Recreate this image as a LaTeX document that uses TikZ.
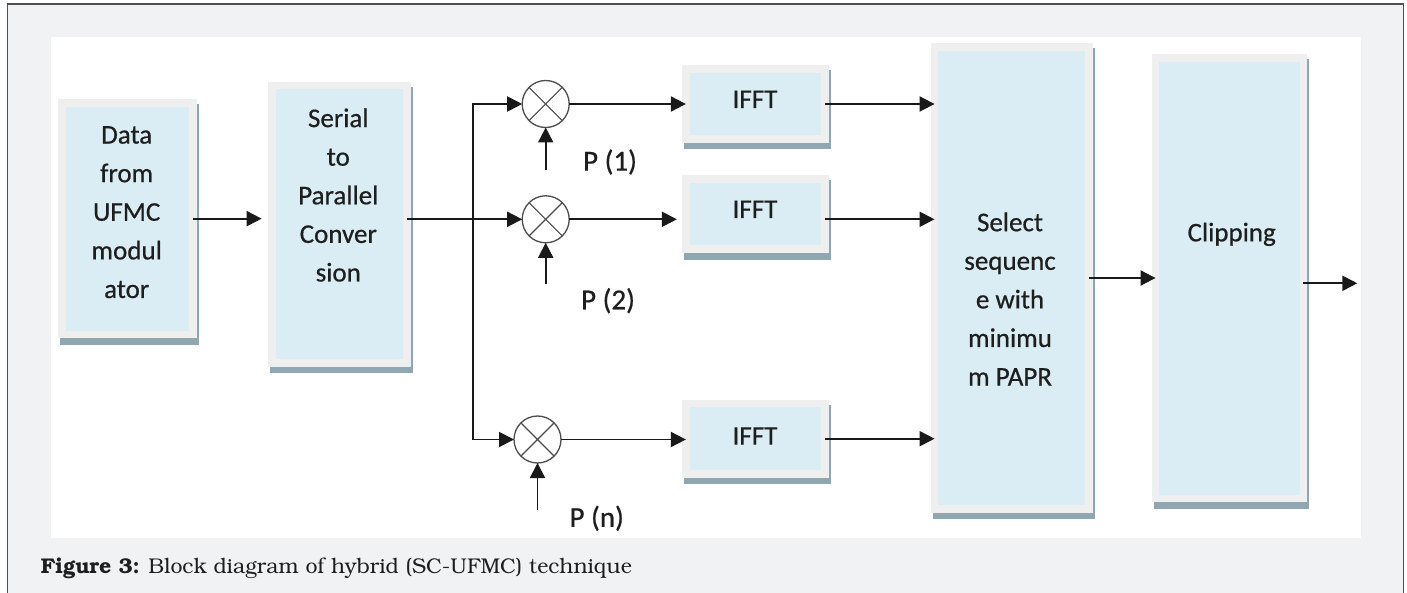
\documentclass[tikz,border=0pt]{standalone}
\usepackage[T1]{fontenc}
\usepackage{fontspec}
\setmainfont{Carlito}
\newfontfamily\boxfont{Carlito}[FakeBold=0.6]
\usetikzlibrary{arrows.meta,calc}
\definecolor{pagegray}{HTML}{F1F2F4}
\definecolor{boxgray}{HTML}{EFEFEF}
\definecolor{boxblue}{HTML}{DAEDF4}
\definecolor{shadowc}{HTML}{8FA7B1}
\definecolor{framec}{HTML}{505050}
\definecolor{ink}{HTML}{1E1E1E}
\newcommand\capfont{\fontencoding{T1}\fontfamily{pbk}\fontsize{21.3}{25}\selectfont}
\pgfdeclarelayer{base}
\pgfdeclarelayer{shade}
\pgfsetlayers{base,shade,main}
\begin{document}
\begin{tikzpicture}[x=1pt,y=-1pt,
  blk/.style={draw=boxgray, line width=7.7pt, fill=boxblue, outer sep=0pt, inner sep=0pt},
  btxt/.style={align=center, font=\boxfont\fontsize{27}{38.6}\selectfont, text=ink, inner sep=0pt},
  ptxt/.style={font=\boxfont\fontsize{29}{34}\selectfont, text=ink, inner sep=0pt},
  mixer/.style={circle, draw=black!70, line width=1.3pt, minimum size=47pt, inner sep=0pt, outer sep=0pt,
    path picture={\draw[black!70, line width=1.1pt]
      (path picture bounding box.north west) -- (path picture bounding box.south east)
      (path picture bounding box.north east) -- (path picture bounding box.south west);}},
  arr/.style={draw=black!90, line width=1.9pt, -{Triangle[length=15pt,width=15pt]}},
  arrtwo/.style={draw=black!90, line width=1.9pt, {Triangle[length=15pt,width=15pt]}-{Triangle[length=15pt,width=15pt]}}
]
\useasboundingbox (0,0) rectangle (1407,593);
\begin{pgfonlayer}{base}
  \fill[pagegray] (7.3,4) rectangle (1403.3,593);
  \draw[framec, line width=1.4pt] (7.3,594) -- (7.3,4) -- (1403.3,4) -- (1403.3,594);
  \fill[white] (51,36.7) rectangle (1361,538.3);
\end{pgfonlayer}

% blocks
\node[blk, minimum width=130.7pt, minimum height=231.6pt] (data) at (127.5,218.65) {};
\node[blk, minimum width=134.7pt, minimum height=277.3pt] (serial) at (339.5,224.2) {};
\node[blk, minimum width=139.3pt, minimum height=70.3pt] (i1) at (755.5,104) {};
\node[blk, minimum width=139.3pt, minimum height=70.3pt] (i2) at (755.5,214.2) {};
\node[blk, minimum width=139.3pt, minimum height=70.3pt] (i3) at (755.5,438.7) {};
\node[blk, minimum width=154.3pt, minimum height=461.7pt] (sel) at (1011.7,278) {};
\node[blk, minimum width=147.9pt, minimum height=440.6pt] (clip) at (1229.5,278.15) {};

\begin{pgfonlayer}{shade}
  \foreach \n in {data,serial,i1,i2,i3,sel,clip}
    \fill[shadowc] ($(\n.south west)+(-1.85,10.35)$) rectangle ($(\n.north east)+(5.85,1.15)$);
\end{pgfonlayer}

% block texts
\node[btxt] (datat) at (126.7,212.2) {Data\\from\\UFMC\\modul\\ator};
\node[btxt] (serialt) at (338.3,195) {Serial\\to\\Parallel\\Conver\\sion};
\node[btxt] (i1t) at (755,99.3) {IFFT};
\node[btxt] (i2t) at (755,209.3) {IFFT};
\node[btxt] (i3t) at (755,436) {IFFT};
\node[btxt] (selt) at (1010,299) {Select\\sequenc\\e with\\minimu\\m PAPR};
\node[btxt] (clipt) at (1231.7,234.3) {Clipping};

% mixers
\node[mixer] (m1) at (545.7,104) {};
\node[mixer] (m2) at (545.7,219.3) {};
\node[mixer] (m3) at (537.5,439.5) {};

% P labels
\node[ptxt] (p1) at (610,162) {P (1)};
\node[ptxt] (p2) at (608,300.7) {P (2)};
\node[ptxt] (pn) at (596.7,518.3) {P (n)};

\coordinate (p1s) at (545.7,170);
\coordinate (p2s) at (545.7,284);
\coordinate (pns) at (537.5,510);
\coordinate (jt) at (473.3,104);
\coordinate (jb) at (473.3,439.5);
\coordinate (out) at (1357.3,283.3);

% connectors
\draw[arr, shorten >=10.5pt] (data.east) -- (data.east -| serial.west);
\draw[arr] (serial.east |- m2) -- (m2);
\draw[arrtwo] (m1) -- (jt) -- (jb) -- (m3);
\draw[arr] (p1s) -- (m1.south);
\draw[arr] (p2s) -- (m2.south);
\draw[arr] (pns) -- (m3.south);
\draw[arr] (m1) -- (m1 -| i1.west);
\draw[arr, shorten >=9pt] (m2) -- (m2 -| i2.west);
\draw[arr] (m3) -- (m3 -| i3.west);
\draw[arr] (i1.east |- m1) -- (sel.west |- m1);
\draw[arr] (i2.east |- m2) -- (sel.west |- m2);
\draw[arr] (i3.east) -- (i3.east -| sel.west);
\draw[arr] (sel.east) -- (sel.east -| clip.west);
\draw[arr] (clip.east |- out) -- (out);

% caption
\node[anchor=base west, inner sep=0pt, text=ink] (cap) at (40.7,573.7)
  {\capfont\textbf{Figure 3:} Block diagram of hybrid (SC-UFMC) technique};
\end{tikzpicture}
\end{document}
